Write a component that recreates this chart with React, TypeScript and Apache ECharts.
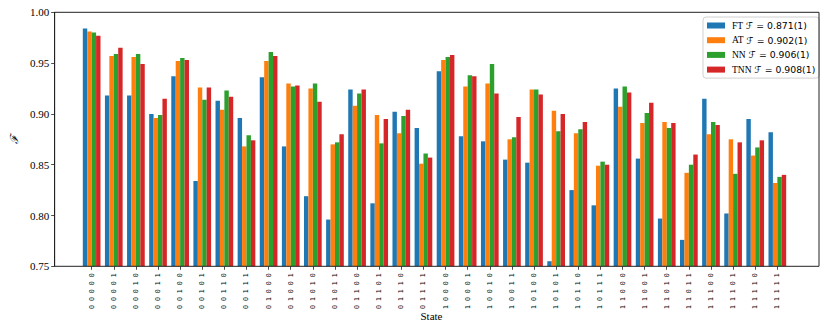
import React, { useEffect, useRef } from "react";
import * as echarts from "echarts";

const categories = [
  "0 0 0 0 0", "0 0 0 0 1", "0 0 0 1 0", "0 0 0 1 1", "0 0 1 0 0", "0 0 1 0 1", "0 0 1 1 0", "0 0 1 1 1",
  "0 1 0 0 0", "0 1 0 0 1", "0 1 0 1 0", "0 1 0 1 1", "0 1 1 0 0", "0 1 1 0 1", "0 1 1 1 0", "0 1 1 1 1",
  "1 0 0 0 0", "1 0 0 0 1", "1 0 0 1 0", "1 0 0 1 1", "1 0 1 0 0", "1 0 1 0 1", "1 0 1 1 0", "1 0 1 1 1",
  "1 1 0 0 0", "1 1 0 0 1", "1 1 0 1 0", "1 1 0 1 1", "1 1 1 0 0", "1 1 1 0 1", "1 1 1 1 0", "1 1 1 1 1",
];

const FT = [0.984, 0.918, 0.918, 0.900, 0.937, 0.834, 0.913, 0.896, 0.936, 0.868, 0.819, 0.796, 0.924, 0.812, 0.902, 0.886,
  0.942, 0.878, 0.873, 0.855, 0.852, 0.755, 0.825, 0.810, 0.925, 0.856, 0.797, 0.776, 0.915, 0.802, 0.895, 0.882];
const AT = [0.981, 0.957, 0.956, 0.896, 0.952, 0.926, 0.904, 0.868, 0.952, 0.930, 0.925, 0.870, 0.908, 0.899, 0.881, 0.851,
  0.953, 0.927, 0.930, 0.875, 0.924, 0.903, 0.881, 0.849, 0.907, 0.891, 0.892, 0.842, 0.880, 0.875, 0.859, 0.832];
const NN = [0.980, 0.959, 0.959, 0.899, 0.955, 0.914, 0.923, 0.879, 0.961, 0.927, 0.930, 0.872, 0.920, 0.871, 0.898, 0.861,
  0.956, 0.938, 0.949, 0.877, 0.924, 0.883, 0.885, 0.853, 0.927, 0.901, 0.886, 0.850, 0.892, 0.841, 0.867, 0.838];
const TNN = [0.977, 0.965, 0.949, 0.915, 0.953, 0.926, 0.917, 0.874, 0.957, 0.928, 0.912, 0.880, 0.924, 0.895, 0.904, 0.857,
  0.958, 0.937, 0.920, 0.897, 0.919, 0.900, 0.892, 0.850, 0.921, 0.911, 0.891, 0.860, 0.889, 0.872, 0.874, 0.840];

const seriesNames = ["FT", "AT", "NN", "TNN"];
const seriesMeans = ["0.871(1)", "0.902(1)", "0.906(1)", "0.908(1)"];
const seriesColors = ["#1f77b4", "#ff7f0e", "#2ca02c", "#d62728"];
const seriesData = [FT, AT, NN, TNN];

const yMin = 0.75;
const yMax = 1.0;
const yStep = 0.05;

const SERIF = "'Liberation Serif', 'DejaVu Serif', serif";
const SANS = "'DejaVu Sans', sans-serif";

export default function App() {
  const ref = useRef<HTMLDivElement>(null);
  useEffect(() => {
    if (!ref.current) return;
    const chart = echarts.init(ref.current, undefined, { renderer: "svg" });
    const option: any = {
      animation: false,
      backgroundColor: "#ffffff",
      grid: [
        { left: 46, top: 12.3, width: 773, height: 254, show: true, borderColor: "#222", borderWidth: 1, backgroundColor: "transparent", z: 10 },
        { left: 80.6, top: 12.3, width: 707.8, height: 254, show: false },
      ],
      xAxis: [
        { type: "value", gridIndex: 0, min: 0, max: 1, show: false },
        {
          type: "category",
          gridIndex: 1,
          data: categories,
          boundaryGap: true,
          axisLine: { show: false },
          axisTick: { show: true, alignWithLabel: true, length: 3.5, lineStyle: { color: "#222", width: 0.8 } },
          axisLabel: {
            rotate: 90,
            interval: 0,
            margin: 7,
            fontFamily: "'DejaVu Sans Mono', monospace",
            fontSize: 6.6,
            color: "#000",
          },
          splitLine: { show: false },
        },
      ],
      yAxis: [
        {
          type: "value",
          gridIndex: 0,
          min: yMin,
          max: yMax,
          interval: yStep,
          name: "ℱ",
          nameLocation: "middle",
          nameGap: 33,
          nameRotate: 90,
          nameTextStyle: { fontFamily: SERIF, fontSize: 11, color: "#000", fontStyle: "italic" },
          axisLine: { show: true, lineStyle: { color: "#222", width: 1 } },
          axisTick: { show: true, length: 3.5, lineStyle: { color: "#222", width: 0.8 } },
          axisLabel: {
            margin: 5.5,
            fontFamily: SERIF,
            fontSize: 11,
            color: "#000",
            formatter: (v: number) => v.toFixed(2),
          },
          splitLine: { show: false },
        },
        { type: "value", gridIndex: 1, min: yMin, max: yMax, show: false, splitLine: { show: false } },
      ],
      legend: {
        orient: "vertical",
        left: 703,
        top: 17,
        padding: [3, 4, 3, 4],
        itemGap: 3.7,
        itemWidth: 18,
        itemHeight: 6,
        icon: "rect",
        backgroundColor: "#ffffff",
        borderColor: "#d0d0d0",
        borderWidth: 1,
        borderRadius: 3,
        data: seriesNames,
        formatter: (name: string) => {
          const i = seriesNames.indexOf(name);
          return `{s|${name}}{m| ℱ\u0304 = ${seriesMeans[i]}}`;
        },
        textStyle: {
          color: "#000",
          lineHeight: 11,
          rich: {
            s: { fontFamily: SERIF, fontSize: 9.5, color: "#000", padding: [0, 0, 0, 2] },
            m: { fontFamily: SANS, fontSize: 9.3, color: "#000" },
          },
        },
      },
      graphic: [
        {
          type: "text",
          left: 432.5 - 12,
          top: 310,
          style: { text: "State", fontFamily: SERIF, fontSize: 11, fill: "#000" },
        },
      ],
      series: seriesNames.map((name, i) => ({
        name,
        type: "bar",
        xAxisIndex: 1,
        yAxisIndex: 1,
        data: seriesData[i],
        barWidth: "20%",
        barGap: "0%",
        itemStyle: { color: seriesColors[i] },
      })),
    };
    chart.setOption(option);
    return () => chart.dispose();
  }, []);
  return (
    <div
      ref={ref}
      style={{ position: "fixed", left: 0, top: 0, width: 830, height: 332 }}
    />
  );
}
